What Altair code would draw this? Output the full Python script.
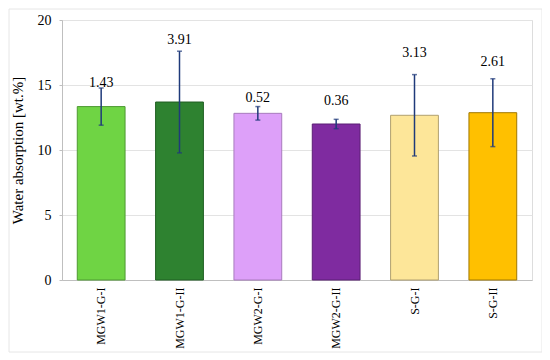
import altair as alt
import pandas as pd

categories = ["MGW1-G-I", "MGW1-G-II", "MGW2-G-I", "MGW2-G-II", "S-G-I", "S-G-II"]
means = [13.34, 13.69, 12.82, 12.00, 12.67, 12.87]
sds = [1.43, 3.91, 0.52, 0.36, 3.13, 2.61]
label_text = ["1.43", "3.91", "0.52", "0.36", "3.13", "2.61"]
label_y = [15.15, 18.45, 14.0, 13.75, 17.45, 16.75]
colors = ["#6fd444", "#2e8230", "#dda0f9", "#7f2ba0", "#fde699", "#ffc000"]
strokes = ["#4e9a32", "#1f5e22", "#a87bbd", "#5b1f74", "#b0a070", "#a07800"]

df = pd.DataFrame({
    "cat": categories,
    "mean": means,
    "lo": [m - s for m, s in zip(means, sds)],
    "hi": [m + s for m, s in zip(means, sds)],
    "label": label_text,
    "ly": label_y,
    "color": colors,
    "stroke": strokes,
})

FONT = "Liberation Serif"

x = alt.X("cat:N", sort=categories, title=None,
          scale=alt.Scale(paddingInner=0.39, paddingOuter=0.195),
          axis=alt.Axis(labelAngle=270, labelAlign="right", labelBaseline="middle",
                        labelFontSize=12, labelFont=FONT, labelColor="#000000",
                        ticks=False, labelPadding=7, domainColor="#bfbfbf"))
yscale = alt.Scale(domain=[0, 20], nice=False)

base = alt.Chart(df)

bars = base.mark_bar(strokeWidth=1).encode(
    x=x,
    y=alt.Y("mean:Q", scale=yscale, title="Water absorption [wt.%]",
            axis=alt.Axis(values=[0, 5, 10, 15, 20], labelFontSize=14, labelFont=FONT,
                          labelColor="#000000", titleFont=FONT, titleFontSize=15,
                          titleFontWeight="normal", titleColor="#000000",
                          titlePadding=12, labelPadding=8, tickSize=3,
                          tickColor="#bfbfbf", domainColor="#bfbfbf",
                          gridColor="#e3e3e3")),
    fill=alt.Fill("color:N", scale=None),
    stroke=alt.Stroke("stroke:N", scale=None),
)

rules = base.mark_rule(color="#1f3a7a", strokeWidth=1.5).encode(
    x=alt.X("cat:N", sort=categories),
    y=alt.Y("lo:Q", scale=yscale),
    y2="hi:Q",
)
caps_hi = base.mark_tick(color="#1f3a7a", size=5, thickness=1.5, orient="horizontal").encode(
    x=alt.X("cat:N", sort=categories), y=alt.Y("hi:Q", scale=yscale))
caps_lo = base.mark_tick(color="#1f3a7a", size=5, thickness=1.5, orient="horizontal").encode(
    x=alt.X("cat:N", sort=categories), y=alt.Y("lo:Q", scale=yscale))

labels = base.mark_text(font=FONT, fontSize=14, color="#000000", baseline="middle").encode(
    x=alt.X("cat:N", sort=categories),
    y=alt.Y("ly:Q", scale=yscale),
    text="label:N",
)

frame = alt.Chart(pd.DataFrame({"k": [0]})).mark_rect(
    fill=None, stroke="#e6e6e6", strokeWidth=1).encode(
    x=alt.value(-53), x2=alt.value(480), y=alt.value(-11), y2=alt.value(332))

chart = alt.layer(frame, bars, rules, caps_hi, caps_lo, labels).properties(
    width=470, height=260,
    autosize=alt.AutoSizeParams(type="none"),
    padding={"left": 54, "top": 12, "right": 10, "bottom": 80},
).configure_view(stroke="#bfbfbf", strokeWidth=1.5).configure(background="white")

chart.save("out.html", embed_options={"renderer": "svg", "actions": False})
